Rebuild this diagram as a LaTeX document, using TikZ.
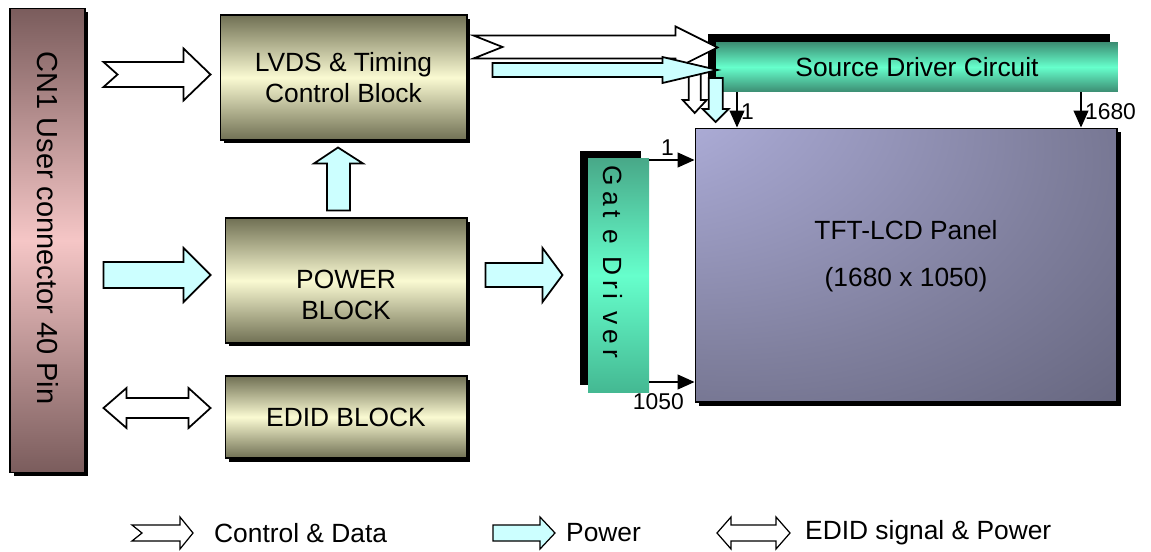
\documentclass[tikz,border=0pt]{standalone}
\usepackage{fontspec}
\setmainfont{Liberation Sans}
\newfontfamily\gatefont[LetterSpace=18]{Liberation Sans}
\usepackage{tikz}
\usetikzlibrary{arrows.meta,calc,shadows}
\definecolor{cnDark}{HTML}{7A5C5C}
\definecolor{cnLight}{HTML}{F5C6C6}
\definecolor{olDark}{HTML}{707054}
\definecolor{olLight}{HTML}{FAFAD2}
\definecolor{sdDark}{HTML}{3C8C72}
\definecolor{sdLight}{HTML}{66FFCC}
\definecolor{gdTop}{HTML}{48A888}
\definecolor{gdBottom}{HTML}{44B892}
\definecolor{pwrCyan}{HTML}{CCFFFF}
\definecolor{panelLight}{HTML}{CACAFA}
\definecolor{panelMid}{HTML}{A0A0C8}
\definecolor{panelDeep}{HTML}{80809E}
\definecolor{panelDark}{HTML}{58586E}
\pgfdeclareradialshading{panelglow}{\pgfpoint{-45bp}{45bp}}{color(0bp)=(panelLight); color(20bp)=(panelMid); color(38bp)=(panelDeep); color(62bp)=(panelDark); color(72bp)=(panelDark)}
\newcommand\lblfont{\fontsize{15pt}{18pt}\selectfont}
\newcommand\cnfont{\fontsize{16.5pt}{20pt}\selectfont}
\newcommand\numfont{\fontsize{13pt}{15pt}\selectfont}
\tikzset{olblock/.style={draw=black,line width=0.6pt,top color=olDark,bottom color=olDark,middle color=olLight,
    drop shadow={shadow xshift=0.07cm,shadow yshift=-0.07cm,opacity=1,fill=black},align=center,font=\lblfont,inner sep=0pt}}
\tikzset{cnbox/.style={draw=black,line width=0.6pt,top color=cnDark,bottom color=cnDark,middle color=cnLight,
    drop shadow={shadow xshift=0.07cm,shadow yshift=-0.07cm,opacity=1,fill=black},minimum width=1.5cm,minimum height=9.3cm}}
\tikzset{sdbox/.style={top color=sdDark,bottom color=sdDark,middle color=sdLight,
    drop shadow={shadow xshift=-0.16cm,shadow yshift=0.16cm,opacity=1,fill=black},font=\lblfont,inner sep=0pt}}
\tikzset{gdbox/.style={top color=gdTop,bottom color=gdBottom,middle color=sdLight,
    drop shadow={shadow xshift=-0.16cm,shadow yshift=0.15cm,opacity=1,fill=black},inner sep=0pt}}
\tikzset{panel/.style={draw=black,line width=0.6pt,shading=panelglow,
    drop shadow={shadow xshift=0.08cm,shadow yshift=-0.08cm,opacity=1,fill=black}}}
\tikzset{dataarr/.style={draw=black,fill=white,line width=1pt,line join=miter}}
\tikzset{pwrarr/.style={draw=black,fill=pwrCyan,line width=1pt,line join=miter}}
\tikzset{pinline/.style={draw=black,line width=0.7pt,-{Triangle[length=0.34cm,width=0.3cm]}}}
\tikzset{pinlabel/.style={font=\numfont,inner sep=2pt}}
\begin{document}
\begin{tikzpicture}[x=0.02cm,y=-0.02cm]
    \useasboundingbox (0,0) rectangle (1151,551);
    % blocks
    \node [cnbox] (cn1) at (47.5,240.5) {};
    \node [rotate=-90,font=\cnfont] (cn1txt) at (47.5,228) {CN1 User connector 40 Pin};
    \node [olblock,minimum width=4.94cm,minimum height=2.5cm] (lvds) at (343.5,77.5) {LVDS \& Timing\\Control Block};
    \node [olblock,minimum width=4.84cm,minimum height=2.5cm] (power) at (346,280.5) {};
    \node [align=center,font=\lblfont] (powertxt) at (346,295) {POWER\\BLOCK};
    \node [olblock,minimum width=4.84cm,minimum height=1.64cm] (edid) at (346,417) {EDID BLOCK};
    \node [sdbox,minimum width=8.04cm,minimum height=1cm] (sdc) at (917,67) {Source Driver Circuit};
    \node [gdbox,minimum width=1.22cm,minimum height=4.7cm] (gate) at (618.5,275.5) {};
    \node [rotate=-90,font=\lblfont\gatefont] (gatetxt) at (613,262) {Gat e Dri ver};
    \node [panel,minimum width=8.44cm,minimum height=5.48cm] (tft) at (906,265) {};
    \node [align=center,font=\lblfont] (tfttxt) at (906,256) {TFT-LCD Panel\\[9pt](1680 x 1050)};
    % block arrows
    \draw [dataarr] ($(cn1.east |- lvds.west)+(18,-3)$)
        ++(0,-12.5) -- ++(80,0) -- ++(0,-13.5) -- ++(27,26) -- ++(-27,26)
        -- ++(0,-13.5) -- ++(-80,0) -- ++(14,-12.5) -- cycle;
    \draw [pwrarr] ($(cn1.east |- power.west)+(18,-5.5)$)
        ++(0,-13) -- ++(80,0) -- ++(0,-14) -- ++(27,27) -- ++(-27,27)
        -- ++(0,-14) -- ++(-80,0) -- cycle;
    \draw [dataarr] ($(cn1.east |- edid.west)+(18,-9)$)
        -- ++(23,-20) -- ++(0,10) -- ++(62,0) -- ++(0,-10) -- ++(22,20)
        -- ++(-22,20) -- ++(0,-10) -- ++(-62,0) -- ++(0,10) -- cycle;
    \draw [pwrarr] ($(power.north)+(-19,-7)$)
        -- ++(0,-47) -- ++(-13,0) -- ++(24,-16) -- ++(25,16) -- ++(-13,0) -- ++(0,47) -- cycle;
    \draw [pwrarr] ($(power.east |- gate.west)+(18,-0.5)$)
        ++(0,-12) -- ++(57,0) -- ++(0,-15) -- ++(20,27) -- ++(-20,27)
        -- ++(0,-15) -- ++(-57,0) -- cycle;
    \draw [dataarr] ($(lvds.north east)+(6,21)$)
        -- ++(202,0) -- ++(0,-9) -- ++(42,21) -- ++(-42,21) -- ++(0,-10)
        -- ++(-202,0) -- ++(29,-11.5) -- cycle;
    \draw [dataarr] ($(sdc.west)+(-27,-1)$)
        -- ++(0,34) -- ++(-6,0) -- ++(12,13) -- ++(12,-13) -- ++(-6,0) -- ++(0,-34) -- cycle;
    \draw [pwrarr] ($(lvds.east)+(25,-14.5)$)
        -- ++(170,0) -- ++(0,-6) -- ++(55,13) -- ++(-55,13) -- ++(0,-6) -- ++(-170,0) -- cycle;
    \draw [pwrarr] ($(sdc.west)+(-7,11)$)
        -- ++(0,31) -- ++(-6,0) -- ++(13,13) -- ++(13,-13) -- ++(-6,0) -- ++(0,-31) -- cycle;
    % data lines into the panel
    \coordinate (s1) at (737,0);
    \coordinate (s2) at (1081,0);
    \coordinate (g1) at (0,160);
    \coordinate (g2) at (0,382);
    \draw [pinline] (s1 |- sdc.south) -- node [pinlabel,right,pos=0.55] {1} (s1 |- tft.north);
    \draw [pinline] (s2 |- sdc.south) -- node [pinlabel,right,pos=0.55] {1680} (s2 |- tft.north);
    \draw [pinline] (gate.east |- g1) -- node [pinlabel,above,pos=0.4] {1} (tft.west |- g1);
    \draw [pinline] (gate.east |- g2) -- node [pinlabel,below=4pt,pos=0.2] {1050} (tft.west |- g2);
    % legend
    \node [font=\lblfont,anchor=west] (legdata) at (208,533) {Control \& Data};
    \node [font=\lblfont,anchor=west] (legpower) at (560,533) {Power};
    \node [font=\lblfont,anchor=west] (legedid) at (799,533) {EDID signal \& Power};
    \draw [dataarr,line width=0.7pt] ($(legdata.west)+(-76,-8)$)
        -- ++(48,0) -- ++(0,-8) -- ++(13,16) -- ++(-13,16) -- ++(0,-8) -- ++(-48,0) -- ++(10,-8) -- cycle;
    \draw [pwrarr,line width=0.7pt] ($(legpower.west)+(-67,-8)$)
        -- ++(47,0) -- ++(0,-8) -- ++(15,16) -- ++(-15,16) -- ++(0,-8) -- ++(-47,0) -- cycle;
    \draw [dataarr,line width=0.7pt] ($(legedid.west)+(-82,0)$)
        -- ++(14,-16) -- ++(0,8) -- ++(45,0) -- ++(0,-8) -- ++(14,16) -- ++(-14,16)
        -- ++(0,-8) -- ++(-45,0) -- ++(0,8) -- cycle;
\end{tikzpicture}
\end{document}
